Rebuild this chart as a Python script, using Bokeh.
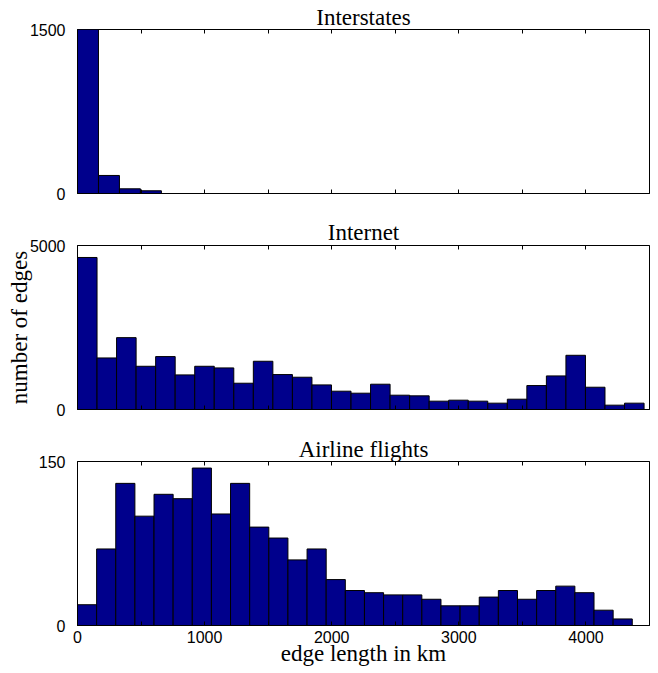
from bokeh.plotting import figure
from bokeh.models import Range1d, FixedTicker, LinearAxis
from bokeh.layouts import column
from bokeh.embed import file_html
from bokeh.resources import INLINE

# ---------------- data ----------------
TITLES = ["Interstates", "Internet", "Airline flights"]
INTERSTATES_COUNTS = [1500, 165, 43, 25]
INTERNET_COUNTS = [4635, 1572, 2191, 1318, 1613, 1055, 1318, 1268, 801, 1471,
                   1065, 984, 750, 558, 497, 771, 436, 416, 254, 284,
                   254, 193, 314, 730, 1024, 1653, 679, 132, 193]
AIRLINE_COUNTS = [19, 70, 130, 100, 120, 116, 144, 102, 130, 90,
                  80, 60, 70, 42, 32, 30, 28, 28, 24, 18,
                  18, 26, 32, 24, 32, 36, 30, 14, 6]
BIN_WIDTHS_KM = [165.0, 153.7, 150.5]
Y_MAX = [1500, 5000, 150]
Y_TICK_LABELS = [["0", "1500"], ["0", "5000"], ["0", "150"]]
X_MAX_KM = 4500
X_TICKS = [0, 500, 1000, 1500, 2000, 2500, 3000, 3500, 4000, 4500]
X_TICK_LABELS = ["0", "", "1000", "", "2000", "", "3000", "", "4000", ""]
Y_LABEL = "number of edges"
X_LABEL = "edge length in km"

SERIES = [INTERSTATES_COUNTS, INTERNET_COUNTS, AIRLINE_COUNTS]

# ---------------- style ----------------
BAR_FILL = "#00008C"
SERIF = "Liberation Serif"
SANS = "Liberation Sans"
FRAME_W = 572
FRAME_H = 164
TOP_BORDERS = [29, 42, 42]
BOTTOM_BORDERS = [10, 10, 48]
TITLE_STANDOFFS = [0, 2, 0]

figs = []
for i in range(3):
    counts = SERIES[i]
    w = BIN_WIDTHS_KM[i]
    lefts = [k * w for k in range(len(counts))]
    rights = [(k + 1) * w for k in range(len(counts))]
    bottom_panel = (i == 2)

    p = figure(frame_width=FRAME_W, frame_height=FRAME_H,
               x_range=Range1d(0, X_MAX_KM), y_range=Range1d(0, Y_MAX[i]),
               title=TITLES[i],
               output_backend="svg", toolbar_location=None,
               min_border_left=77, min_border_right=8,
               min_border_top=TOP_BORDERS[i], min_border_bottom=BOTTOM_BORDERS[i],
               background_fill_color="white", border_fill_color="white")
    p.grid.visible = False
    p.outline_line_color = "black"
    p.outline_line_width = 1
    p.outline_line_alpha = 1.0

    p.title.align = "center"
    p.title.text_font = SERIF
    p.title.text_font_size = "23px"
    p.title.text_font_style = "normal"
    p.title.text_color = "black"
    p.title.standoff = TITLE_STANDOFFS[i]

    p.quad(left=lefts, right=rights, top=counts, bottom=0,
           fill_color=BAR_FILL, line_color="black", line_width=1)

    # y axis
    ya = p.yaxis[0]
    ya.ticker = FixedTicker(ticks=[0, Y_MAX[i]])
    ya.major_label_overrides = {0: Y_TICK_LABELS[i][0], Y_MAX[i]: Y_TICK_LABELS[i][1]}
    ya.major_tick_line_color = None
    ya.minor_tick_line_color = None
    ya.axis_line_color = "black"
    ya.major_label_text_font = SANS
    ya.major_label_text_font_size = "16px"
    ya.major_label_text_color = "black"
    ya.major_label_standoff = 6
    if i == 1:
        ya.axis_label = Y_LABEL
        ya.axis_label_text_font = SERIF
        ya.axis_label_text_font_size = "23px"
        ya.axis_label_text_font_style = "normal"
        ya.axis_label_text_color = "black"
        ya.axis_label_standoff = -5

    # bottom x axis
    xa = p.xaxis[0]
    xa.ticker = FixedTicker(ticks=X_TICKS)
    xa.major_tick_in = 4
    xa.major_tick_out = 0
    xa.minor_tick_line_color = None
    xa.axis_line_color = "black"
    xa.major_tick_line_color = "black"
    if bottom_panel:
        xa.major_label_overrides = {t: s for t, s in zip(X_TICKS, X_TICK_LABELS)}
        xa.major_label_text_font = SANS
        xa.major_label_text_font_size = "16px"
        xa.major_label_text_color = "black"
        xa.major_label_standoff = 5
        xa.axis_label = X_LABEL
        xa.axis_label_text_font = SERIF
        xa.axis_label_text_font_size = "23px"
        xa.axis_label_text_font_style = "normal"
        xa.axis_label_text_color = "black"
        xa.axis_label_standoff = -5
    else:
        xa.major_label_overrides = {t: "" for t in X_TICKS}
        xa.major_label_text_font_size = "0px"
        xa.major_label_standoff = 0

    # top x axis (ticks only)
    ta = LinearAxis(ticker=FixedTicker(ticks=X_TICKS))
    ta.major_label_overrides = {t: "" for t in X_TICKS}
    ta.major_label_text_font_size = "0px"
    ta.major_label_standoff = 0
    ta.major_tick_in = 4
    ta.major_tick_out = 0
    ta.minor_tick_line_color = None
    ta.axis_line_color = None
    ta.major_tick_line_color = "black"
    p.add_layout(ta, "above")

    figs.append(p)

layout = column(*figs, spacing=0)
open("out.html", "w").write(file_html(layout, INLINE))
